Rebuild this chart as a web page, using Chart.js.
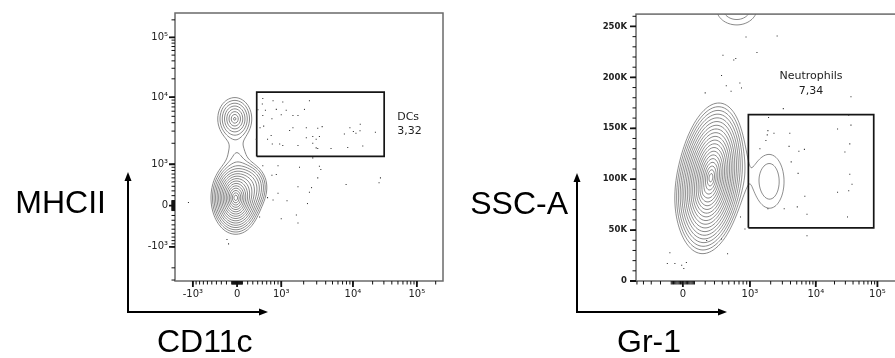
<!DOCTYPE html>
<html>
<head>
<meta charset="utf-8">
<title>DC and neutrophil gating</title>
<script src="https://cdn.jsdelivr.net/npm/chart.js@4.4.1/dist/chart.umd.min.js"></script>
<style>
  html, body { margin: 0; padding: 0; background: #fff; width: 895px; height: 358px; overflow: hidden; }
  canvas { position: absolute; top: 0; }
  #dcPlot { left: 0; }
  #neuPlot { left: 447px; }
</style>
</head>
<body>
<canvas id="dcPlot" width="447" height="358"></canvas>
<canvas id="neuPlot" width="460" height="358"></canvas>
<script>
// axis ticks
const logTicks = [-1000, 0, 1000, 10000, 100000];
const logTickLabels = ['-10³', '0', '10³', '10⁴', '10⁵'];
const sscTicks = [0, 50000, 100000, 150000, 200000, 250000];
const sscTickLabels = ['0', '50K', '100K', '150K', '200K', '250K'];

// CD11c / MHCII: single events drawn as dots
const dcEvents = [
  [510, 9500], [760, 8800], [1050, 8400], [2390, 8800], [500, 7800], [405, 6300], [570, 6200],
  [850, 6400], [1170, 6200], [1440, 5150], [1680, 5150], [2050, 6400], [510, 5150], [730, 4600],
  [1000, 5300], [530, 3550], [1440, 3350], [2170, 3350], [3100, 3300], [3570, 3490], [1300, 3060],
  [2170, 2400], [2650, 2500], [2950, 2280], [3270, 2500], [620, 2280], [710, 2580], [740, 1950],
  [950, 1950], [1050, 1860], [1680, 1860], [2650, 2000], [2950, 1720], [3100, 1690], [4760, 1690],
  [8350, 1740], [14100, 1830], [7450, 2720], [9000, 3350], [10150, 2950], [11100, 2790], [12800, 3040],
  [12900, 3800], [22100, 2880], [450, 3350], [370, 2280],
  [2650, 1240], [3270, 935], [3420, 830], [1760, 900], [900, 950], [510, 950], [730, 670], [850, 690],
  [3100, 600], [7900, 440], [25200, 480], [26500, 600], [1680, 390], [2550, 370], [2390, 270],
  [900, 250], [620, 160], [760, 110], [1200, 95], [2250, 40], [1600, -190], [1000, -270], [1680, -360],
  [-1150, 60], [-190, -770], [-160, -900], [440, -230]
];
const dcGateX = [380, 30300];
const dcGateY = [1300, 12100];
const dcGateText = ['DCs', '3,32'];
// density model: [x, y, spreadX, spreadY, weight, tilt, profile exponent]
const dcPopulations = [
  [-25, 155, 0.019, 0.028, 1, 0, 1],
  [240, 400, 0.050, 0.060, 0.03, 0, 2],
  [-43, 4580, 0.028, 0.035, 0.075, 0, 1],
  [0, 1440, 0.050, 0.050, 0.006, 0, 2]
];

// Gr-1 / SSC-A
const neuEvents = [
  [880, 239600], [2500, 240600], [1260, 224400], [410, 221800], [590, 217000], [630, 218600],
  [390, 201900], [460, 191800], [720, 194400], [760, 189600], [540, 186400], [200, 184800],
  [37000, 180900], [3100, 169300], [1860, 160600], [34000, 162800], [1820, 147700], [2240, 145100],
  [3900, 145100], [1780, 143500], [22400, 149300], [37000, 153100], [1700, 138000], [35400, 134700],
  [29500, 126700], [1390, 129900], [3800, 132200], [5400, 127400], [6600, 129300], [4100, 117000],
  [5250, 105700], [35400, 104800], [38500, 95100], [34000, 88700], [22400, 87100], [6700, 83200],
  [1820, 70900], [3200, 70900], [5100, 72800], [7250, 65500], [32500, 62900], [7250, 44500],
  [850, 51000], [735, 62900], [-112, 27800], [-135, 17100], [-68, 17100], [-10, 15500], [30, 18100],
  [8, 12300], [215, 39700], [390, 41300], [480, 26800]
];
const neuGateX = [950, 87000];
const neuGateY = [52200, 163500];
const neuGateText = ['Neutrophils', '7,34'];
const neuPopulations = [
  [260, 101500, 0.024, 0.056, 1, 0.13, 1],
  [180, 86000, 0.032, 0.050, 0.06, 0.13, 1],
  [1950, 97700, 0.080, 0.150, 0.0102, 0, 2],
  [650, 268000, 0.112, 0.092, 0.0105, 0, 2]
];

// biexponential display transform (units <-> value)
function biexValue(u, k, p) {
  const a = Math.abs(u);
  const v = k * (Math.exp(a) - p * p * Math.exp(-a / p) + p * p - 1);
  return u < 0 ? -v : v;
}
function biexUnits(v, k, p) {
  const t = Math.abs(v);
  let lo = 0, hi = 20;
  for (let i = 0; i < 50; i++) {
    const m = (lo + hi) / 2;
    if (biexValue(m, k, p) < t) lo = m; else hi = m;
  }
  const u = (lo + hi) / 2;
  return v < 0 ? -u : u;
}

class BiexScale extends Chart.LinearScale {
  units(v) { return biexUnits(v, this.options.k, this.options.p); }
  span() {
    const key = this.min + ':' + this.max;
    if (this._spanKey !== key) {
      this._spanKey = key;
      this._u0 = this.units(this.min);
      this._u1 = this.units(this.max);
    }
  }
  getPixelForValue(value) {
    if (value === null || value === undefined) return NaN;
    this.span();
    return this.getPixelForDecimal((this.units(value) - this._u0) / (this._u1 - this._u0));
  }
  getValueForPixel(pixel) {
    this.span();
    const u = this._u0 + this.getDecimalForPixel(pixel) * (this._u1 - this._u0);
    return biexValue(u, this.options.k, this.options.p);
  }
}
BiexScale.id = 'biex';
BiexScale.defaults = {};
Chart.register(BiexScale);

Chart.defaults.font.family = 'DejaVu Sans';
Chart.defaults.color = '#222';

function biexMinor(min, max) {
  const out = [];
  for (let e = 1; e <= 5; e++) {
    for (let m = 1; m <= 9; m++) {
      const v = m * Math.pow(10, e);
      if (v <= max) out.push(v);
      if (-v >= min) out.push(-v);
    }
  }
  return out;
}
function linearMinor(max, step) {
  const out = [];
  for (let v = 0; v <= max; v += step) out.push(v);
  return out;
}

// ---- contours (marching squares over a density grid) ----
const CASES = [null, [[3, 2]], [[2, 1]], [[3, 1]], [[0, 1]], [[3, 0], [2, 1]], [[0, 2]], [[3, 0]],
  [[3, 0]], [[0, 2]], [[0, 1], [3, 2]], [[0, 1]], [[3, 1]], [[2, 1]], [[3, 2]], null];

function densityGrid(chart, populations, step) {
  const { left, top, width, height, bottom } = chart.chartArea;
  const xs = chart.scales.x, ys = chart.scales.y;
  const comps = populations.map(([x, y, sx, sy, w, tilt, alpha]) => ({
    cx: xs.getDecimalForPixel(xs.getPixelForValue(x)),
    cy: ys.getDecimalForPixel(ys.getPixelForValue(y)),
    sx, sy, w, cos: Math.cos(tilt), sin: Math.sin(tilt), half: alpha / 2
  }));
  const cols = Math.floor(width / step) + 1, rows = Math.floor(height / step) + 1;
  const v = new Float32Array(cols * rows);
  let max = 0;
  for (let j = 0; j < rows; j++) {
    const fy = (bottom - (top + j * step)) / height;
    for (let i = 0; i < cols; i++) {
      const fx = (i * step) / width;
      let f = 0;
      for (const c of comps) {
        const dx = fx - c.cx, dy = fy - c.cy;
        const n = (dx * c.cos - dy * c.sin) / c.sx;
        const m = (dx * c.sin + dy * c.cos) / c.sy;
        f += c.w * Math.exp(-Math.pow(n * n + m * m, c.half));
      }
      v[j * cols + i] = f;
      if (f > max) max = f;
    }
  }
  return { v, cols, rows, step, left, top, max };
}

function traceLevel(ctx, g, level) {
  const { v, cols, rows, step, left, top } = g;
  ctx.beginPath();
  for (let j = 0; j < rows - 1; j++) {
    for (let i = 0; i < cols - 1; i++) {
      const a = v[j * cols + i], b = v[j * cols + i + 1];
      const c = v[(j + 1) * cols + i + 1], d = v[(j + 1) * cols + i];
      const code = (a > level ? 8 : 0) | (b > level ? 4 : 0) | (c > level ? 2 : 0) | (d > level ? 1 : 0);
      const pairs = CASES[code];
      if (!pairs) continue;
      const x = left + i * step, y = top + j * step;
      const pt = e => {
        if (e === 0) return [x + step * (level - a) / (b - a), y];
        if (e === 1) return [x + step, y + step * (level - b) / (c - b)];
        if (e === 2) return [x + step * (level - d) / (c - d), y + step];
        return [x, y + step * (level - a) / (d - a)];
      };
      for (const [e1, e2] of pairs) {
        const p1 = pt(e1), p2 = pt(e2);
        ctx.moveTo(p1[0], p1[1]);
        ctx.lineTo(p2[0], p2[1]);
      }
    }
  }
  ctx.stroke();
}

function drawTicks(ctx, chart, axis, values, len, lw) {
  const area = chart.chartArea, s = chart.scales[axis];
  ctx.lineWidth = lw;
  ctx.beginPath();
  for (const val of values) {
    const p = s.getPixelForValue(val);
    if (axis === 'x') {
      if (p < area.left - 0.5 || p > area.right + 0.5) continue;
      ctx.moveTo(p, area.bottom);
      ctx.lineTo(p, area.bottom + len);
    } else {
      if (p < area.top - 0.5 || p > area.bottom + 0.5) continue;
      ctx.moveTo(area.left - len, p);
      ctx.lineTo(area.left, p);
    }
  }
  ctx.stroke();
}

function arrowHead(ctx, x, y, dir) {
  ctx.beginPath();
  if (dir === 'up') {
    ctx.moveTo(x, y); ctx.lineTo(x - 3.5, y + 9); ctx.lineTo(x + 3.5, y + 9);
  } else {
    ctx.moveTo(x, y); ctx.lineTo(x - 9, y - 3.5); ctx.lineTo(x - 9, y + 3.5);
  }
  ctx.closePath();
  ctx.fill();
}

function flowPlot(opt) {
  return {
    id: 'flowPlot',
    beforeDatasetsDraw(chart) {
      const ctx = chart.ctx, area = chart.chartArea;
      const grid = densityGrid(chart, opt.populations, 1);
      ctx.save();
      ctx.beginPath();
      ctx.rect(area.left, area.top, area.width, area.height);
      ctx.clip();
      ctx.strokeStyle = '#7c7c7c';
      ctx.lineWidth = 0.9;
      for (let i = 1; i <= opt.levels; i++) traceLevel(ctx, grid, grid.max * Math.exp(-i * opt.spacing));
      ctx.restore();
    },
    afterDatasetsDraw(chart) {
      const ctx = chart.ctx, area = chart.chartArea;
      const xs = chart.scales.x, ys = chart.scales.y;
      ctx.save();
      // frame
      ctx.strokeStyle = '#6a6a6a';
      ctx.lineWidth = 1.5;
      ctx.strokeRect(area.left, area.top, area.width, area.height);
      // tick marks
      ctx.strokeStyle = '#111';
      drawTicks(ctx, chart, 'x', opt.xMinor, 3.5, 1);
      drawTicks(ctx, chart, 'y', opt.yMinor, 3.5, 1);
      drawTicks(ctx, chart, 'x', opt.xMajor, 6, 1.8);
      drawTicks(ctx, chart, 'y', opt.yMajor, 6, 1.8);
      // gate annotation
      const gx0 = xs.getPixelForValue(opt.gateX[0]), gx1 = xs.getPixelForValue(opt.gateX[1]);
      const gTop = ys.getPixelForValue(opt.gateY[1]), gBottom = ys.getPixelForValue(opt.gateY[0]);
      ctx.fillStyle = '#222';
      ctx.font = '11px "DejaVu Sans"';
      ctx.textBaseline = 'middle';
      if (opt.gateTextSide === 'right') {
        ctx.textAlign = 'left';
        const ym = (gTop + gBottom) / 2;
        ctx.fillText(opt.gateText[0], gx1 + 13, ym - 7);
        ctx.fillText(opt.gateText[1], gx1 + 13, ym + 7);
      } else {
        ctx.textAlign = 'center';
        const xm = (gx0 + gx1) / 2;
        ctx.fillText(opt.gateText[0], xm, gTop - 38);
        ctx.fillText(opt.gateText[1], xm, gTop - 23);
      }
      ctx.restore();
    },
    afterDraw(chart) {
      const ctx = chart.ctx, t = opt.titles;
      ctx.save();
      ctx.strokeStyle = '#000';
      ctx.fillStyle = '#000';
      ctx.lineWidth = 2;
      ctx.beginPath();
      ctx.moveTo(t.ax, t.top + 6);
      ctx.lineTo(t.ax, t.ay);
      ctx.lineTo(t.right - 6, t.ay);
      ctx.stroke();
      arrowHead(ctx, t.ax, t.top, 'up');
      arrowHead(ctx, t.right, t.ay, 'right');
      ctx.font = '32px "Liberation Sans"';
      ctx.textBaseline = 'alphabetic';
      ctx.textAlign = 'right';
      ctx.fillText(t.y, t.yRight, t.yBase);
      ctx.textAlign = 'left';
      ctx.fillText(t.x, t.xLeft, t.xBase);
      ctx.restore();
    }
  };
}

function fixedTicks(values, labels) {
  return {
    afterBuildTicks: s => {
      s.ticks = values.filter(v => v >= s.min && v <= s.max).map(v => ({ value: v }));
    },
    callback: v => labels[values.indexOf(v)]
  };
}

function axis(base, values, labels, font, pad, fit) {
  const t = fixedTicks(values, labels);
  return Object.assign({
    afterBuildTicks: t.afterBuildTicks,
    afterFit: fit,
    grid: { display: false, drawTicks: false },
    border: { display: false },
    ticks: {
      autoSkip: false, maxRotation: 0, padding: pad,
      font, color: '#222',
      callback: t.callback
    }
  }, base);
}

function eventSet(points) {
  return {
    data: points.map(([x, y]) => ({ x, y })),
    pointStyle: 'rect', pointRadius: 0.75, backgroundColor: '#333', borderWidth: 0
  };
}
function gateSet(gx, gy) {
  return {
    type: 'line',
    data: [
      { x: gx[0], y: gy[0] }, { x: gx[1], y: gy[0] }, { x: gx[1], y: gy[1] },
      { x: gx[0], y: gy[1] }, { x: gx[0], y: gy[0] }
    ],
    borderColor: '#151515', borderWidth: 1.7, pointRadius: 0, fill: false, tension: 0
  };
}

const common = {
  responsive: false,
  animation: false,
  events: [],
  plugins: { legend: { display: false }, tooltip: { enabled: false } }
};
const logFont = { size: 10 };
const sscFont = { size: 8.5, weight: 'bold' };

// CD11c vs MHCII
const dcX = { type: 'biex', min: -1740, max: 262144, k: 126, p: 3 };
const dcY = { type: 'biex', min: -3100, max: 262144, k: 126, p: 3 };
new Chart(document.getElementById('dcPlot'), {
  type: 'scatter',
  data: { datasets: [eventSet(dcEvents), gateSet(dcGateX, dcGateY)] },
  options: Object.assign({}, common, {
    layout: { padding: { left: 135, right: 3, top: 10, bottom: 52 } },
    scales: {
      x: axis(dcX, logTicks, logTickLabels, logFont, 7, s => { s.height = 25; }),
      y: axis(dcY, logTicks, logTickLabels, logFont, 7, s => { s.width = 40; })
    }
  }),
  plugins: [flowPlot({
    populations: dcPopulations, levels: 16, spacing: 0.3,
    xMajor: logTicks, yMajor: logTicks,
    xMinor: biexMinor(dcX.min, dcX.max), yMinor: biexMinor(dcY.min, dcY.max),
    gateX: dcGateX, gateY: dcGateY, gateText: dcGateText, gateTextSide: 'right',
    titles: { ax: 128, ay: 312, top: 172, right: 268, y: 'MHCII', yRight: 106, yBase: 213, x: 'CD11c', xLeft: 157, xBase: 352 }
  })]
});

// Gr-1 vs SSC-A
const neuX = { type: 'biex', min: -516, max: 262144, k: 64.2, p: 2.5 };
const neuY = { type: 'linear', min: 0, max: 262144 };
new Chart(document.getElementById('neuPlot'), {
  type: 'scatter',
  data: { datasets: [eventSet(neuEvents), gateSet(neuGateX, neuGateY)] },
  options: Object.assign({}, common, {
    layout: { padding: { left: 144, right: 4, top: 10, bottom: 52 } },
    scales: {
      x: axis(neuX, logTicks, logTickLabels, logFont, 7, s => { s.height = 25; }),
      y: axis(neuY, sscTicks, sscTickLabels, sscFont, 9, s => { s.width = 45; })
    }
  }),
  plugins: [flowPlot({
    populations: neuPopulations, levels: 20, spacing: 0.25,
    xMajor: logTicks, yMajor: sscTicks,
    xMinor: biexMinor(neuX.min, neuX.max), yMinor: linearMinor(260000, 10000),
    gateX: neuGateX, gateY: neuGateY, gateText: neuGateText, gateTextSide: 'above',
    titles: { ax: 130, ay: 312, top: 173, right: 280, y: 'SSC-A', yRight: 121, yBase: 214, x: 'Gr-1', xLeft: 170, xBase: 352 }
  })]
});
</script>
</body>
</html>
